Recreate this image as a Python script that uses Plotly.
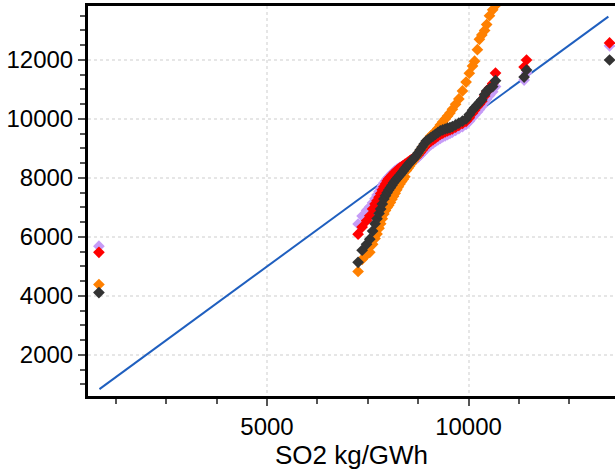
import plotly.graph_objects as go

# observed SO2 (kg/GWh), sorted - shared x for all series
so2_obs = [829,
           7260, 7360, 7470, 7550, 7620, 7680, 7730, 7780, 7820, 7860,
           7900, 7940, 7980, 8020, 8060, 8100, 8140, 8180, 8220, 8260,
           8300, 8340, 8380, 8420, 8460, 8500, 8540, 8580, 8620, 8660,
           8700, 8750, 8800, 8850, 8900, 8950, 9000, 9060, 9120, 9180,
           9240, 9300, 9360, 9420, 9480, 9540, 9600, 9680, 9760, 9850,
           9940, 10020, 10100, 10150, 10220, 10270, 10330, 10400, 10450, 10520,
           10600, 10670,
           11380, 11440, 13500]

purple_y = [5690,
            6440, 6710, 6900, 7020, 7160, 7300, 7420, 7540, 7640, 7740,
            7830, 7900, 7970, 8030, 8090, 8150, 8200, 8250, 8290, 8330,
            8360, 8390, 8420, 8450, 8480, 8510, 8530, 8560, 8590, 8610,
            8640, 8700, 8770, 8850, 8920, 8990, 9060, 9120, 9180, 9240,
            9290, 9340, 9390, 9430, 9470, 9510, 9550, 9610, 9670, 9740,
            9820, 9920, 10050, 10130, 10240, 10320, 10420, 10560, 10680, 10800,
            10920, 11100,
            11320, 11560, 12480]

red_y = [5480,
         6095, 6335, 6550, 6720, 6950, 7120, 7230, 7350, 7470, 7600,
         7700, 7800, 7900, 7970, 8030, 8090, 8150, 8200, 8250, 8300,
         8340, 8380, 8420, 8460, 8500, 8540, 8580, 8620, 8650, 8680,
         8710, 8780, 8860, 8950, 9030, 9110, 9180, 9240, 9300, 9360,
         9420, 9480, 9520, 9560, 9600, 9630, 9660, 9720, 9780, 9850,
         9920, 10040, 10200, 10300, 10420, 10500, 10600, 10780, 10920, 11050,
         11200, 11556,
         11760, 12000, 12580]

orange_y = [4390,
            4830, 5240, 5400, 5480, 5750, 5950, 6100, 6300, 6450, 6620,
            6780, 6900, 7000, 7080, 7170, 7280, 7380, 7480, 7600, 7700,
            7800, 7880, 7960, 8040, 8250, 8330, 8410, 8490, 8570, 8650,
            8730, 8830, 8930, 9030, 9130, 9230, 9320, 9420, 9500, 9580,
            9680, 9800, 9900, 10000, 10100, 10200, 10330, 10500, 10680, 10950,
            11250, 11550, 11800, 11960, 12350, 12700, 12850, 13000, 13200, 13500,
            13700, 13850,
            14800, 15300, 17500]

dark_y = [4116,
          5140, 5550, 5750, 5925, 6200, 6450, 6620, 6800, 6950, 7120,
          7290, 7400, 7500, 7590, 7670, 7750, 7840, 7910, 7970, 8040,
          8100, 8170, 8240, 8310, 8380, 8450, 8510, 8570, 8630, 8690,
          8750, 8850, 8950, 9050, 9150, 9250, 9300, 9360, 9420, 9480,
          9540, 9600, 9630, 9660, 9690, 9710, 9740, 9800, 9860, 9930,
          10000, 10150, 10300, 10380, 10480, 10560, 10650, 10830, 10950, 11020,
          11100, 11300,
          11420, 11660, 12000]

ref_line = [842, 13470]

series = [("purple", purple_y, "#c69cf7"),
          ("red", red_y, "#ff0000"),
          ("orange", orange_y, "#ff8000"),
          ("dark", dark_y, "#333333")]

fig = go.Figure()
fig.add_trace(go.Scatter(x=ref_line, y=ref_line, mode="lines",
                         line=dict(color="#1f5fbf", width=2)))
for name, ys, col in series:
    fig.add_trace(go.Scatter(x=so2_obs, y=ys, mode="markers", name=name,
                             marker=dict(symbol="diamond", size=9, color=col,
                                         line=dict(width=0))))

axis_common = dict(
    showline=True, linecolor="black", linewidth=3,
    ticks="outside", ticklen=7, tickwidth=2, tickcolor="#555555",
    showgrid=True, gridcolor="#e6e6e6", griddash="dot", gridwidth=2,
    zeroline=False, tickformat="d",
    tickfont=dict(size=24, color="black"),
)

fig.update_xaxes(range=[558, 13635], tickvals=[5000, 10000], mirror=True,
                 title=dict(text="SO2 kg/GWh", font=dict(size=26, color="black"),
                            standoff=6),
                 minor=dict(dtick=1250, tick0=0, ticks="outside", ticklen=5,
                            tickwidth=2, tickcolor="#555555", showgrid=False),
                 **axis_common)
fig.update_yaxes(range=[610, 13830], tickvals=[2000, 4000, 6000, 8000, 10000, 12000],
                 minor=dict(dtick=500, tick0=0, ticks="outside", ticklen=5,
                            tickwidth=2, tickcolor="#555555", showgrid=False),
                 **axis_common)

fig.update_layout(width=615, height=472, showlegend=False,
                  plot_bgcolor="white", paper_bgcolor="white",
                  font=dict(family="Arial, Liberation Sans, sans-serif", color="black"),
                  margin=dict(l=88, r=0, t=6, b=76))

# drop the default page margin so the figure sits at the window's corner
fig.write_html("out.html", config={"displayModeBar": False},
               post_script="document.body.style.margin='0';"
                           "document.body.style.overflow='hidden';")
